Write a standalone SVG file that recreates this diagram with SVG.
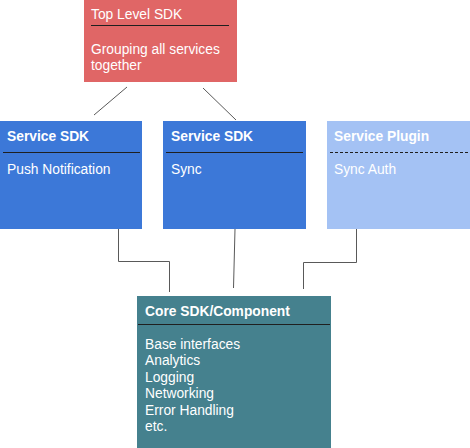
<svg xmlns="http://www.w3.org/2000/svg" width="470" height="448" viewBox="0 0 470 448">
<style>
  text { font-family: "Liberation Sans", Arial, sans-serif; font-size: 13.8px; fill: #ffffff; }
  .b { font-weight: bold; }
  .div { stroke: #1f1f1f; stroke-width: 1; }
  .conn { stroke: #595959; stroke-width: 1; fill: none; }
</style>
<rect width="470" height="448" fill="#ffffff"/>
<g id="connectors">
  <line class="conn" x1="127" y1="87" x2="94" y2="115"/>
  <line class="conn" x1="203" y1="88" x2="236" y2="120"/>
  <polyline class="conn" points="118.5,229 118.5,261.5 169.5,261.5 169.5,292"/>
  <line class="conn" x1="235" y1="229" x2="233.5" y2="288"/>
  <polyline class="conn" points="356.5,229 356.5,262.5 303.5,262.5 303.5,289"/>
</g>
<g id="top-level-sdk">
  <rect x="84" y="0" width="153" height="82" fill="#E06666"/>
  <text x="91" y="19">Top Level SDK</text>
  <line class="div" x1="91" y1="25.5" x2="229" y2="25.5"/>
  <text x="91" y="54">Grouping all services</text>
  <text x="91" y="70">together</text>
</g>
<g id="service-sdk-push">
  <rect x="0" y="121" width="142" height="108" fill="#3C78D8"/>
  <text class="b" x="7" y="141">Service SDK</text>
  <line class="div" x1="3" y1="152.5" x2="140" y2="152.5"/>
  <text x="7" y="174">Push Notification</text>
</g>
<g id="service-sdk-sync">
  <rect x="163" y="121" width="143" height="108" fill="#3C78D8"/>
  <text class="b" x="171" y="141">Service SDK</text>
  <line class="div" x1="166" y1="152.5" x2="303" y2="152.5"/>
  <text x="171" y="174">Sync</text>
</g>
<g id="service-plugin">
  <rect x="327" y="121" width="143" height="108" fill="#A4C2F4"/>
  <text class="b" x="334" y="141">Service Plugin</text>
  <line class="div" x1="330" y1="152.5" x2="468" y2="152.5" stroke-dasharray="3,2"/>
  <text x="334" y="174">Sync Auth</text>
</g>
<g id="core-sdk">
  <rect x="137" y="296" width="194" height="152" fill="#45818E"/>
  <text class="b" x="145" y="316">Core SDK/Component</text>
  <line class="div" x1="138" y1="324.5" x2="330" y2="324.5"/>
  <text x="145" y="348.5">Base interfaces</text>
  <text x="145" y="365">Analytics</text>
  <text x="145" y="381.5">Logging</text>
  <text x="145" y="398">Networking</text>
  <text x="145" y="414.5">Error Handling</text>
  <text x="145" y="431">etc.</text>
</g>
</svg>
